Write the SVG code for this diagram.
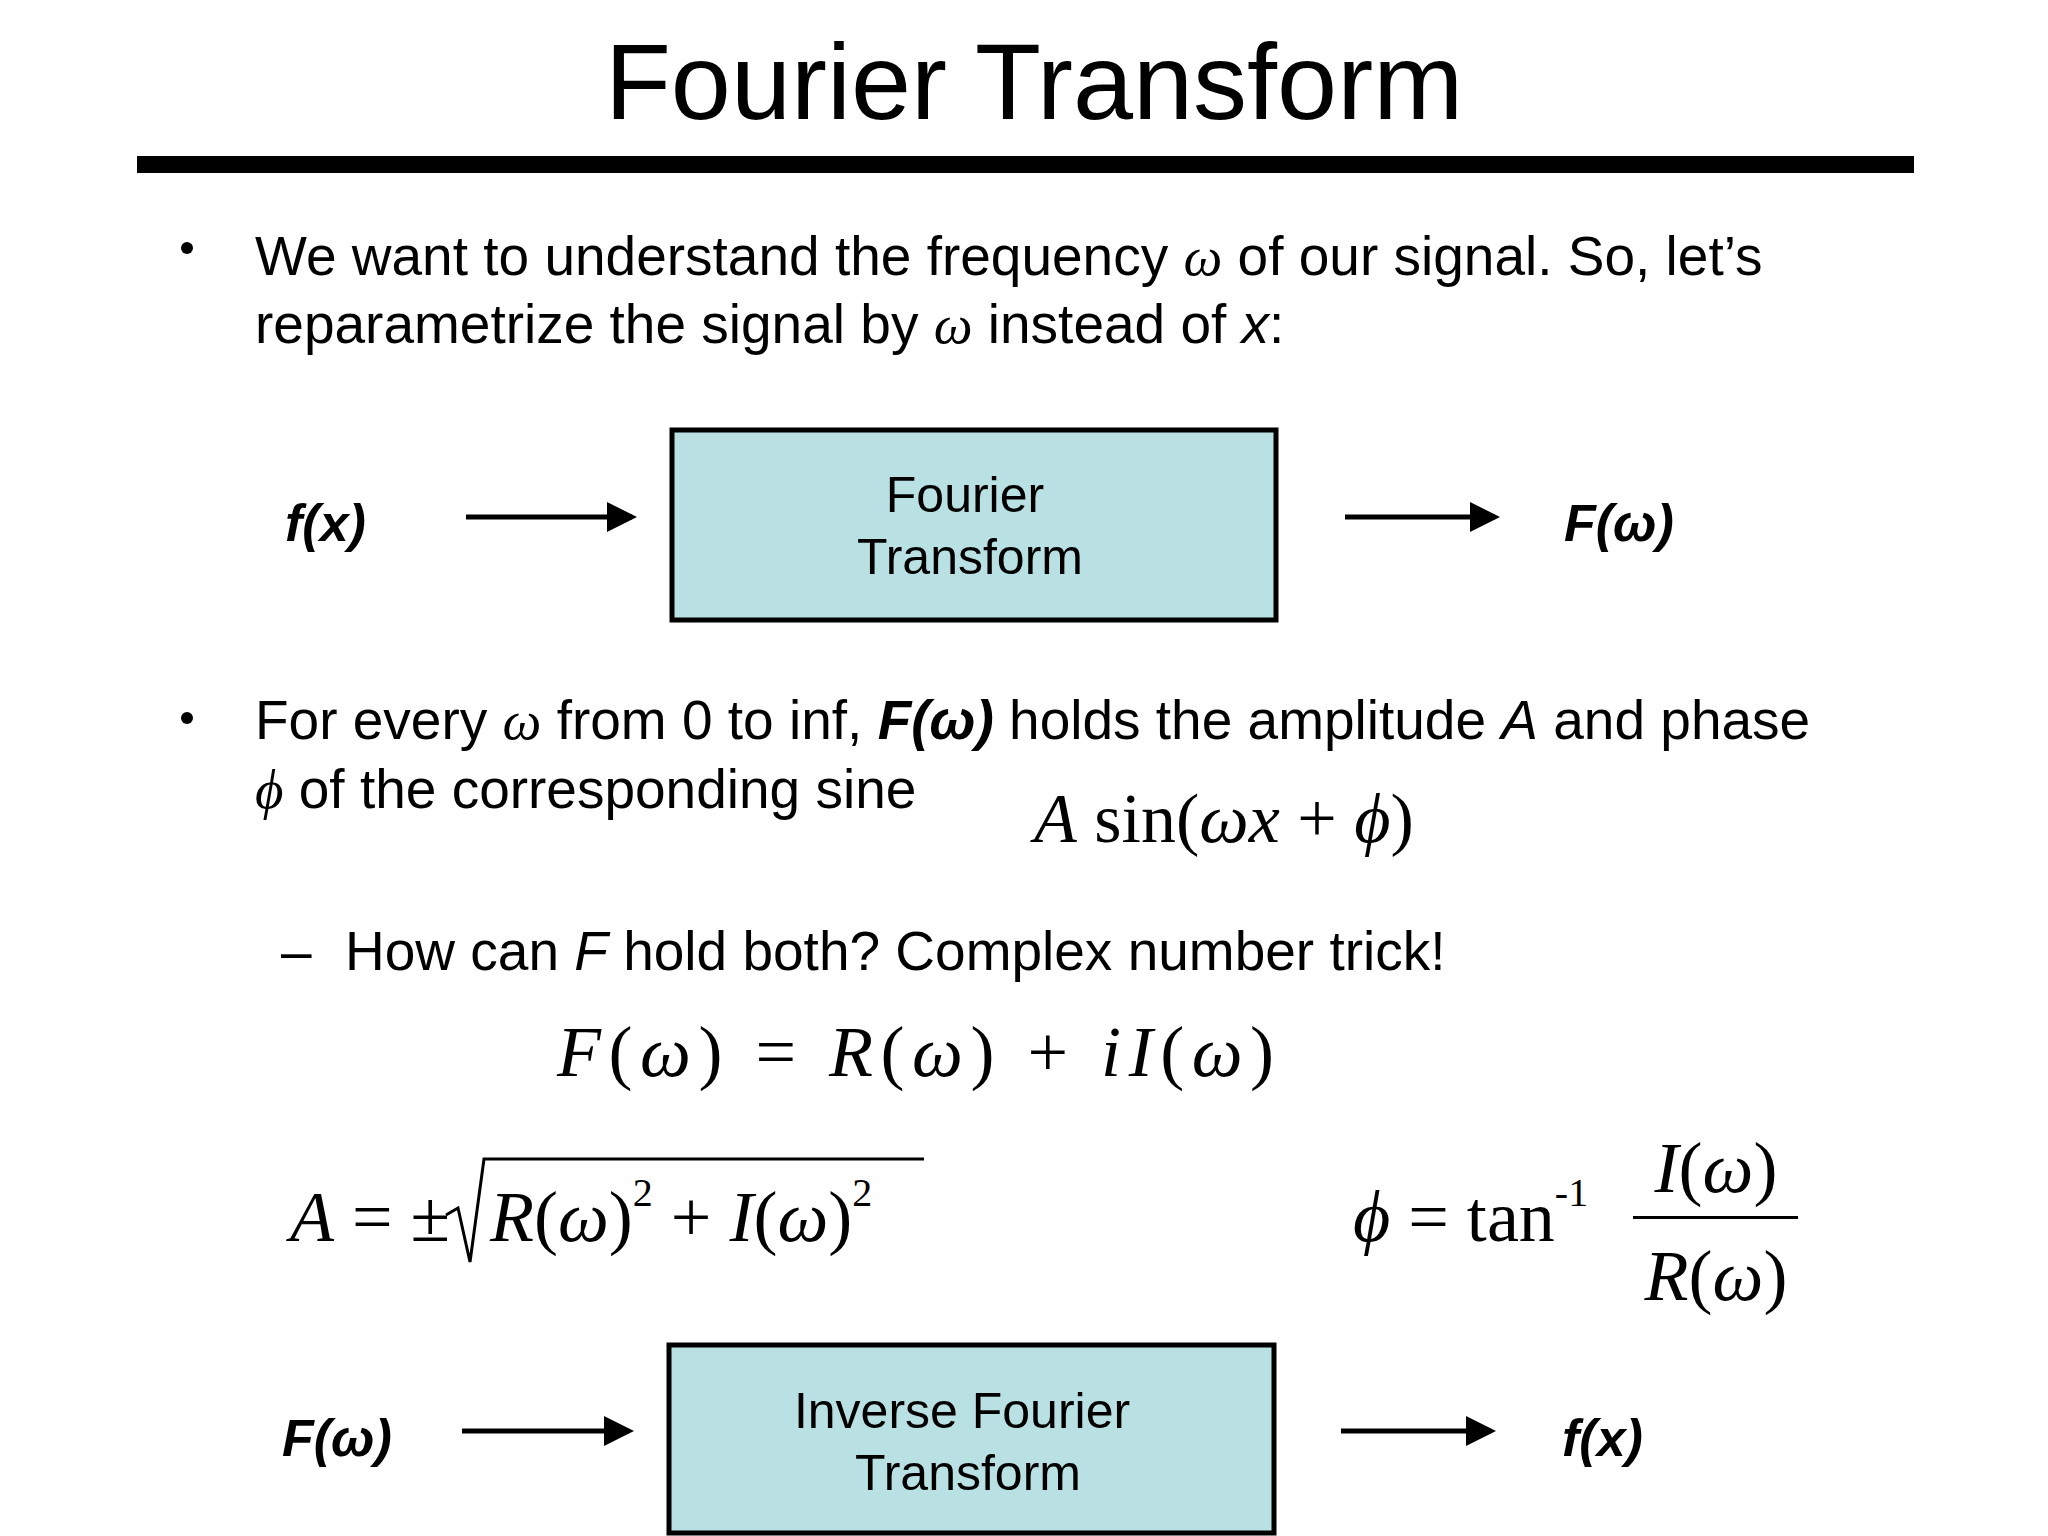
<svg xmlns="http://www.w3.org/2000/svg" width="2048" height="1536" viewBox="0 0 2048 1536">
<style>
.s{font-family:"Liberation Sans",Arial,sans-serif;fill:#000}
.m{font-family:"Liberation Serif","Times New Roman",serif;fill:#000}
.b{font-size:55px}
.lbl{font-family:"Liberation Sans",Arial,sans-serif;font-size:52px;font-weight:bold;font-style:italic}
.box{fill:#b9e0e2;stroke:#000;stroke-width:5}
.bt{font-family:"Liberation Sans",Arial,sans-serif;font-size:50px;text-anchor:middle}
.ar{stroke:#000;stroke-width:5;fill:none}
</style>
<defs><marker id="ah" markerWidth="6" markerHeight="6" refX="5" refY="3" orient="auto" markerUnits="strokeWidth"><path d="M0,0 L6,3 L0,6 z" fill="#000"/></marker></defs>
<rect width="2048" height="1536" fill="#fff"/>
<text class="s" x="1034" y="119" font-size="108" text-anchor="middle">Fourier Transform</text>
<rect x="137" y="156" width="1777" height="17" fill="#000"/>
<circle cx="187" cy="248" r="6" fill="#000"/>
<text class="s b" x="255" y="275">We want to understand the frequency <tspan class="m" font-style="italic">ω</tspan> of our signal.  So, let’s</text>
<text class="s b" x="255" y="343">reparametrize the signal by <tspan class="m" font-style="italic">ω</tspan> instead of <tspan font-style="italic">x</tspan>:</text>
<g id="n1"><rect class="box" x="672" y="430" width="604" height="190"/><text class="bt" x="965" y="512">Fourier</text><text class="bt" x="970" y="574">Transform</text></g>
<g id="fx1"><text class="lbl" x="285" y="541">f(x)</text></g>
<g id="Fw1"><text class="lbl" x="1564" y="541">F(ω)</text></g>
<circle cx="187" cy="718" r="6" fill="#000"/>
<text class="s b" x="255" y="739"> For every <tspan class="m" font-style="italic">ω</tspan> from 0 to inf, <tspan font-weight="bold" font-style="italic">F(ω)</tspan> holds the amplitude <tspan font-style="italic">A</tspan> and phase</text>
<text class="s b" x="255" y="808"><tspan class="m" font-style="italic">ϕ</tspan>  of the corresponding sine</text>
<text class="m" x="1034" y="842" font-size="70"><tspan font-style="italic">A</tspan> sin(<tspan font-style="italic">ωx</tspan> + <tspan font-style="italic">ϕ</tspan>)</text>
<text class="s b" x="281" y="970">–</text>
<text class="s b" x="345" y="970">How can <tspan font-style="italic">F</tspan> hold both?  Complex number trick!</text>
<text class="m" x="557" y="1076" font-size="72" textLength="717"><tspan font-style="italic">F</tspan>(<tspan font-style="italic">ω</tspan>) = <tspan font-style="italic">R</tspan>(<tspan font-style="italic">ω</tspan>) + <tspan font-style="italic">iI</tspan>(<tspan font-style="italic">ω</tspan>)</text>
<text class="m" x="290" y="1241" font-size="72"><tspan font-style="italic">A</tspan> = ±</text>
<path d="M446,1215 L458,1208 L470,1262 L484,1159 L924,1159" stroke="#000" stroke-width="3" fill="none"/>
<text class="m" x="490" y="1241" font-size="72"><tspan font-style="italic">R</tspan>(<tspan font-style="italic">ω</tspan>)<tspan font-size="40" dy="-35">2</tspan><tspan dy="35"> + </tspan><tspan font-style="italic">I</tspan>(<tspan font-style="italic">ω</tspan>)<tspan font-size="40" dy="-35">2</tspan></text>
<text class="m" x="1353" y="1241" font-size="72"><tspan font-style="italic">ϕ</tspan> = tan<tspan font-size="40" dy="-35">-1</tspan></text>
<text class="m" x="1716" y="1192" font-size="72" text-anchor="middle"><tspan font-style="italic">I</tspan>(<tspan font-style="italic">ω</tspan>)</text>
<rect x="1633" y="1216" width="165" height="3" fill="#000"/>
<text class="m" x="1716" y="1300" font-size="72" text-anchor="middle"><tspan font-style="italic">R</tspan>(<tspan font-style="italic">ω</tspan>)</text>
<g id="n2"><rect class="box" x="669" y="1345" width="605" height="188"/><text class="bt" x="962" y="1428">Inverse Fourier</text><text class="bt" x="968" y="1490">Transform</text></g>
<g id="Fw2"><text class="lbl" x="282" y="1456">F(ω)</text></g>
<g id="fx2"><text class="lbl" x="1562" y="1456">f(x)</text></g>
<g id="connectors">
<line class="ar" x1="466" y1="517" x2="632" y2="517" marker-end="url(#ah)"/>
<line class="ar" x1="1345" y1="517" x2="1495" y2="517" marker-end="url(#ah)"/>
<line class="ar" x1="462" y1="1431" x2="629" y2="1431" marker-end="url(#ah)"/>
<line class="ar" x1="1341" y1="1431" x2="1491" y2="1431" marker-end="url(#ah)"/>
</g>
</svg>
